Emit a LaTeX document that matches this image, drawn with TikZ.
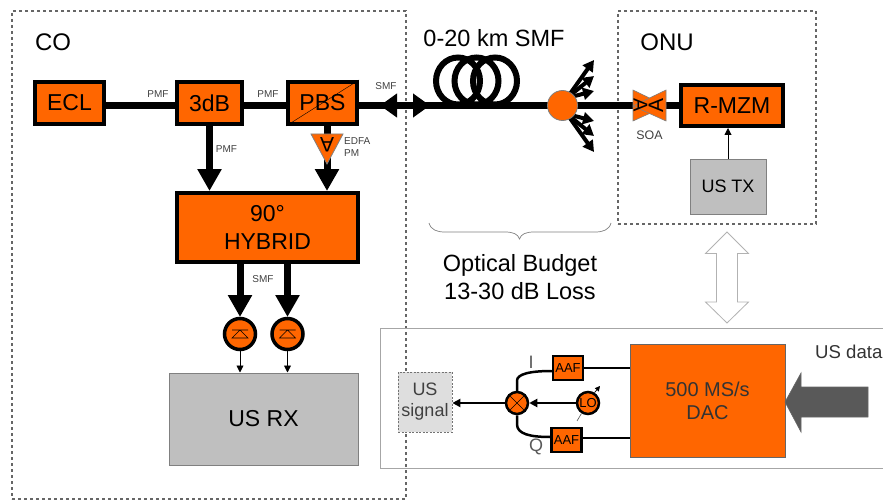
\documentclass[tikz,border=0pt]{standalone}
\usepackage{fontspec}
\setmainfont{Liberation Sans}
\usetikzlibrary{arrows.meta,calc}
\definecolor{org}{HTML}{FF6600}
\definecolor{grb}{HTML}{BFBFBF}
\tikzset{
 obox/.style={draw=black,fill=org,line width=4pt,inner sep=0pt,font=\fontsize{23}{23}\selectfont},
 gbox/.style={draw=black!50,fill=grb,line width=1pt,inner sep=0pt,align=center},
 dbox/.style={draw=black!60,dash pattern=on 3pt off 3pt,line width=1.2pt},
 fat/.style={line width=7pt},
 fathead/.style={line width=7pt,-{Triangle[width=23pt,length=22pt]}},
 midhead/.style={line width=7pt,-{Triangle[width=23pt,length=17pt]}},
 fan/.style={line width=4pt,-{Triangle[width=12pt,length=11pt]}},
 thin arrow/.style={line width=.9pt,-{Triangle[width=7pt,length=7pt]}},
 lbl/.style={font=\fontsize{10}{10}\selectfont,text=black!75,inner sep=0pt},
 big/.style={font=\fontsize{23.5}{23.5}\selectfont,inner sep=0pt},
 iqbox/.style={draw=black,fill=org,line width=2.5pt,inner sep=0pt,minimum width=30pt,minimum height=24pt,font=\fontsize{13}{13}\selectfont},
 iqcirc/.style={circle,draw=black,fill=org,line width=2.5pt,inner sep=0pt,minimum size=22pt,font=\fontsize{13}{13}\selectfont},
 pd/.style={circle,draw=black,fill=org,line width=3.5pt,inner sep=0pt,minimum size=31pt},
 iqline/.style={line width=2.5pt},
 light/.style={text=black!80,inner sep=0pt},
}
\begin{document}
\begin{tikzpicture}[x=1pt,y=-1pt]
\useasboundingbox (0,0) rectangle (883,500);
% region frames
\node[dbox,minimum width=394pt,minimum height=488pt,inner sep=0pt] (cobox) at (209,255) {};
\node[dbox,minimum width=198pt,minimum height=213pt,inner sep=0pt] (onubox) at (717,117.5) {};
\node[big,font=\fontsize{24}{24}\selectfont] (co) at (53,42) {CO};
\node[big,font=\fontsize{24}{24}\selectfont] (onu) at (667,42) {ONU};
% coil
\foreach \cx in {458,476.5,495}{
  \draw[line width=6pt] (\cx,81) ellipse [x radius=22,y radius=23.5];
}
\node[big] (km) at (494,38) {0-20 km SMF};
% boxes
\node[obox,minimum width=69pt,minimum height=42pt] (ecl) at (69.5,103) {ECL};
\node[obox,minimum width=65pt,minimum height=42pt] (tdb) at (209.5,103) {3dB};
\node[obox,minimum width=69pt,minimum height=42pt] (pbs) at (322.5,103) {PBS};
\node[obox,minimum width=181pt,minimum height=69pt,align=center] (hyb) at (267.5,227.5) {90°\\[5pt]HYBRID};
\node[obox,minimum width=102pt,minimum height=41pt] (rmzm) at (732,105.5) {R-MZM};
\node[gbox,minimum width=76pt,minimum height=55pt,font=\fontsize{18}{18}\selectfont] (ustx) at (728,186.5) {US TX};
\node[gbox,minimum width=189pt,minimum height=92pt,font=\fontsize{23}{23}\selectfont] (usrx) at (263.5,419) {US RX};
% fibre run
\coordinate (pbsout) at (357,105.5);
\coordinate (lbase) at (397,105.5);
\coordinate (ltip) at (380,105.5);
\coordinate (rbase) at (413,105.5);
\coordinate (rtip) at (430,105.5);
\coordinate (sc) at (562.5,105.5);
\draw[fat] (ecl.east |- pbsout) -- (tdb.west |- pbsout);
\draw[fat] (tdb.east |- pbsout) -- (pbs.west |- pbsout);
\draw[fat] (pbs.east |- pbsout) -- (sc);
\draw[fat] (sc) -- (rmzm.west |- sc);
\draw[midhead] (lbase) -- (ltip);
\draw[midhead] (rbase) -- (rtip);
\draw[black,thin] (pbs.south west) -- (pbs.north east);
% splitter
\coordinate (f1) at (594,60);\coordinate (f2) at (594,76);\coordinate (f3) at (594,91);
\coordinate (f4) at (594,121);\coordinate (f5) at (594,136);\coordinate (f6) at (594,152);
\coordinate (fu) at (567,98);\coordinate (fd) at (567,114);
\foreach \t in {f1,f2,f3} \draw[fan] (fu) -- (\t);
\foreach \t in {f4,f5,f6} \draw[fan] (fd) -- (\t);
\node[circle,draw=black!50,fill=org,line width=.8pt,minimum size=30pt,inner sep=0pt] (split) at (sc) {};
% down arrows
\draw[fathead] (tdb.south |- 0,124) -- (tdb.south |- hyb.north);
\coordinate (pd0) at (327,124);
\coordinate (pd1) at (327,191);
\draw[fathead] (pd0) -- (pd1);
\draw[draw=black!50,fill=org,line width=.8pt] (311,134) -- (343,134) -- (327,164) -- cycle;
\node[rotate=180,inner sep=0pt,font=\fontsize{21}{21}\selectfont] (ampA) at (327,145) {A};
\node[lbl] (p1) at (158,94) {PMF};
\node[lbl] (p2) at (268,94) {PMF};
\node[lbl] (p3) at (226.5,149) {PMF};
\node[lbl] (s1) at (386,86.5) {SMF};
\node[lbl,anchor=west] (e1) at (344,141.5) {EDFA};
\node[lbl,anchor=west] (e2) at (344,153.5) {PM};
\node[lbl] (s2) at (263,279) {SMF};
% photodiodes
\coordinate (h1) at (240,262);
\coordinate (h2) at (287.5,262);
\node[pd] (d1) at (240,334) {};
\node[pd] (d2) at (287.5,334) {};
\draw[fathead] (h1) -- (h1 |- 0,317);
\draw[fathead] (h2) -- (h2 |- 0,317);
\foreach \d in {d1,d2}{
  \draw[black,line width=.6pt] ($(\d)+(-8,-4)$) -- ($(\d)+(8,-4)$) (\d) ++(0,-4) -- ++(-8,8) -- ++(16,0) -- cycle;
  \draw[thin arrow] (\d.south) -- (\d.south |- usrx.north);
}
% SOA
\draw[draw=black!50,fill=org,line width=.6pt] (633,90) -- (633,121) -- (666,106) -- cycle;
\draw[draw=black!50,fill=org,line width=.6pt] (666,90) -- (666,121) -- (633,106) -- cycle;
\node[rotate=-90,inner sep=0pt,font=\fontsize{20}{20}\selectfont] (soaL) at (640.5,105.5) {A};
\node[rotate=90,inner sep=0pt,font=\fontsize{21}{21}\selectfont] (soaR) at (656,105.5) {A};
\node[lbl,font=\fontsize{12.4}{12.4}\selectfont] (soa) at (649.5,135) {SOA};
\draw[thin arrow] (ustx.north) -- (ustx.north |- rmzm.south);
% brace
\draw[draw=black!50,line width=.7pt] (429,223) .. controls (431,230) and (437,232) .. (445,232) -- (505,232) .. controls (513,232) and (518,234) .. (519.5,239) .. controls (521,234) and (526,232) .. (534,232) -- (595,232) .. controls (603,232) and (609,230) .. (611,223);
\node[big,align=center] (budget) at (520,277) {Optical Budget\\[4.5pt]13-30 dB Loss};
% double arrow
\draw[draw=black!30,fill=white,line width=.8pt] (727,232) -- (748.5,253.5) -- (737.5,253.5) -- (737.5,302) -- (748.5,302) -- (727,323) -- (705.5,302) -- (716.5,302) -- (716.5,253.5) -- (705.5,253.5) -- cycle;
% DSP panel
\draw[draw=black!35,line width=.8pt] (883,328) -- (380.5,328) -- (380.5,468) -- (883,468);
\node[draw=black!60,fill=org,line width=.6pt,minimum width=155pt,minimum height=113pt,inner sep=0pt,align=center,font=\fontsize{20}{20}\selectfont,text=black!80] (dac) at (707.5,400.5) {500 MS/s\\[3pt]DAC};
\draw[draw=black!60,fill=black!65,line width=.6pt] (785,402) -- (801,373) -- (801,387) -- (868,387) -- (868,417) -- (801,417) -- (801,432) -- cycle;
\node[light,anchor=west,font=\fontsize{18.6}{18.6}\selectfont] (usdata) at (815,352) {US data};
\node[iqbox] (aaf1) at (568,368) {AAF};
\node[iqbox] (aaf2) at (566.5,440) {AAF};
\node[iqcirc] (mix) at (517,403) {};
\node[iqcirc] (lo) at (588,403) {LO};
\draw[black,line width=.6pt] (mix.45) -- (mix.225) (mix.135) -- (mix.-45);
\draw[iqline] (mix.north) -- ++(0,-10) .. controls (517,374) and (530,371) .. (aaf1.west |- 0,371);
\draw[iqline] (mix.south) -- ++(0,9) .. controls (517,434) and (530,437) .. (aaf2.west |- 0,437);
\draw[iqline] (aaf1.east |- 0,368) -- (dac.west |- 0,368);
\draw[iqline] (aaf2.east |- 0,438) -- (dac.west |- 0,438);
\node[draw=black!55,fill=black!13,dash pattern=on 2pt off 1.5pt,line width=.7pt,minimum width=54pt,minimum height=60pt,inner sep=0pt,align=center,font=\fontsize{18}{18}\selectfont,text=black!75] (ussig) at (425,402) {US\\[3pt]signal};
\draw[line width=2pt,-{Triangle[width=8pt,length=8pt]}] (lo.west) -- (mix.east);
\draw[line width=2pt,-{Triangle[width=8pt,length=8pt]}] (mix.west) -- (ussig.east |- mix);
\coordinate (lo1) at (577,421);
\coordinate (lo2) at (600,386);
\draw[black!60,line width=.7pt] (lo1) -- (lo.-122);
\draw[black,line width=.7pt,-{Triangle[width=5pt,length=5pt]}] (lo.58) -- (lo2);
\node[light,text=black!65,font=\fontsize{18}{18}\selectfont] (il) at (531,362) {I};
\node[light,text=black!65,font=\fontsize{18}{18}\selectfont] (ql) at (536,447) {Q};
\end{tikzpicture}
\end{document}
